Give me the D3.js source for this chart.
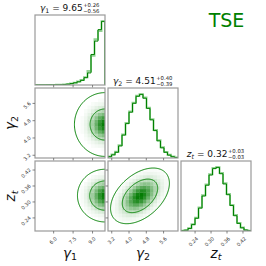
<!DOCTYPE html>
<html><head><meta charset="utf-8">
<script src="https://cdn.jsdelivr.net/npm/d3@7"></script>
<style>body{margin:0;background:#fff}svg{display:block}text{font-family:"DejaVu Sans",sans-serif}</style>
</head><body>
<svg id="c" width="266" height="266"></svg>
<script>
// ---------- data ----------
const paramNames = ["γ", "γ", "z"];
const paramSubs = ["1", "2", "t"];
const domains = [[4.6, 10.0], [3.05, 6.29], [0.189, 0.452]];
const tickValues = [[6.0, 7.5, 9.0], [3.2, 4.0, 4.8, 5.6], [0.24, 0.30, 0.36, 0.42]];
const tickLabels = [["6.0", "7.5", "9.0"], ["3.2", "4.0", "4.8", "5.6"], ["0.24", "0.30", "0.36", "0.42"]];
const titleMedian = ["9.65", "4.51", "0.32"];
const titlePlus = ["+0.26", "+0.40", "+0.03"];
const titleMinus = ["−0.56", "−0.39", "−0.03"];
// 1D histograms (20 bins each, relative heights)
const gamma1Hist = [0, 0, 0, 0.0005, 0.001, 0.001, 0.002, 0.004, 0.007, 0.013, 0.022, 0.035, 0.05, 0.073, 0.115, 0.19, 0.48, 0.69, 0.87, 1.0];
const gamma1HistAlt = [0, 0, 0, 0.0005, 0.001, 0.001, 0.002, 0.004, 0.008, 0.014, 0.024, 0.037, 0.055, 0.08, 0.12, 0.22, 0.46, 0.72, 0.85, 1.0];
const gamma2Hist = [0.02, 0.05, 0.09, 0.19, 0.36, 0.54, 0.72, 0.86, 0.97, 1.0, 0.94, 0.78, 0.6, 0.43, 0.27, 0.16, 0.09, 0.045, 0.02, 0.008];
const gamma2HistAlt = [0.025, 0.055, 0.1, 0.2, 0.37, 0.55, 0.73, 0.87, 0.98, 1.0, 0.95, 0.79, 0.61, 0.44, 0.28, 0.17, 0.095, 0.05, 0.022, 0.009];
const ztHist = [0.004, 0.012, 0.04, 0.1, 0.2, 0.36, 0.55, 0.72, 0.88, 0.98, 1.0, 0.9, 0.74, 0.57, 0.4, 0.24, 0.12, 0.05, 0.015, 0.004];
const ztHistAlt = [0.005, 0.014, 0.043, 0.105, 0.21, 0.37, 0.56, 0.73, 0.89, 0.99, 1.0, 0.91, 0.75, 0.58, 0.41, 0.25, 0.125, 0.055, 0.017, 0.005];
// 2D panels: column param, row param, centre, widths, correlation, contour levels
const pairX = [0, 0, 1];
const pairY = [1, 2, 2];
const pairCenter = [[10.0, 4.6], [10.0, 0.322], [4.53, 0.321]];
const pairSigma = [[1.15, 0.72], [1.18, 0.055], [0.82, 0.063]];
const pairRho = [0, 0, 0.45];
const pairLevels = [[1, 2.05], [1, 1.8], [1, 1.66]];
const label = "TSE";

// ---------- layout ----------
const panelLeft = 35, panelTop = 15, panelSize = 70, panelGap = 3, nBins = 20;
const green = "#008000", lightGreen = "#93d293";
const svg = d3.select("#c");
const x0 = k => panelLeft + k * (panelSize + panelGap);
const y0 = k => panelTop + k * (panelSize + panelGap);
const sx = domains.map((d, k) => d3.scaleLinear().domain(d).range([x0(k), x0(k) + panelSize]));
const sy = domains.map((d, k) => d3.scaleLinear().domain(d).range([y0(k) + panelSize, y0(k)]));
const edges = domains.map(d => d3.range(nBins + 1).map(i => d[0] + i * (d[1] - d[0]) / nBins));
const hists = [gamma1Hist, gamma2Hist, ztHist];
const histsAlt = [gamma1HistAlt, gamma2HistAlt, ztHistAlt];

const defs = svg.append("defs");
function clipFor(c, r) {
  const id = `clip${c}${r}`;
  defs.append("clipPath").attr("id", id).append("rect")
    .attr("x", x0(c)).attr("y", y0(r)).attr("width", panelSize).attr("height", panelSize);
  return `url(#${id})`;
}

// 1D histograms
hists.forEach((h, k) => {
  const hy = d3.scaleLinear().domain([0, 1.1 * d3.max(h)]).range([y0(k) + panelSize, y0(k)]);
  const g = svg.append("g").attr("clip-path", clipFor(k, k));
  const stepPts = arr => {
    const pts = [[edges[k][0], 0]];
    arr.forEach((v, i) => { pts.push([edges[k][i], v]); pts.push([edges[k][i + 1], v]); });
    pts.push([edges[k][nBins], 0]);
    return pts;
  };
  const line = d3.line().x(p => sx[k](p[0])).y(p => hy(p[1]));
  g.append("path").attr("d", line(stepPts(histsAlt[k]))).attr("fill", "none")
    .attr("stroke", lightGreen).attr("stroke-width", 2);
  g.append("path").attr("d", line(stepPts(h))).attr("fill", "none")
    .attr("stroke", green).attr("stroke-width", 1);
});

// 2D panels
const shade = d3.interpolateRgb("#ffffff", "#007a00");
pairX.forEach((c, p) => {
  const r = pairY[p];
  const [mx, my] = pairCenter[p];
  const [wx, wy] = pairSigma[p];
  const rho = pairRho[p];
  const g = svg.append("g").attr("clip-path", clipFor(c, r));
  const maha = (x, y) => {
    const u = (x - mx) / wx, v = (y - my) / wy;
    return Math.sqrt((u * u - 2 * rho * u * v + v * v) / (1 - rho * rho));
  };
  const cells = [];
  for (let i = 0; i < nBins; i++) for (let j = 0; j < nBins; j++) {
    const xc = (edges[c][i] + edges[c][i + 1]) / 2, yc = (edges[r][j] + edges[r][j + 1]) / 2;
    const m = maha(xc, yc) / 0.58;
    const val = Math.exp(-0.5 * m * m);
    if (val > 0.02) cells.push({i, j, val});
  }
  g.selectAll("rect.cell").data(cells).enter().append("rect")
    .attr("x", d => sx[c](edges[c][d.i]))
    .attr("y", d => sy[r](edges[r][d.j + 1]))
    .attr("width", d => sx[c](edges[c][d.i + 1]) - sx[c](edges[c][d.i]) + 0.3)
    .attr("height", d => sy[r](edges[r][d.j]) - sy[r](edges[r][d.j + 1]) + 0.3)
    .attr("fill", d => shade(d.val));
  pairLevels[p].forEach(lv => {
    const pts = d3.range(0, 241).map(t => {
      const a = t / 240 * 2 * Math.PI;
      return [mx + lv * wx * Math.cos(a), my + lv * wy * (rho * Math.cos(a) + Math.sqrt(1 - rho * rho) * Math.sin(a))];
    });
    g.append("path").attr("d", d3.line().x(q => sx[c](q[0])).y(q => sy[r](q[1]))(pts))
      .attr("fill", "none").attr("stroke", green).attr("stroke-width", 1);
  });
});

// frames and ticks
for (let r = 0; r < 3; r++) for (let c = 0; c <= r; c++) {
  svg.append("rect").attr("x", x0(c)).attr("y", y0(r)).attr("width", panelSize).attr("height", panelSize)
    .attr("fill", "none").attr("stroke", "#9a9a9a").attr("stroke-width", 1.2);
  const gb = svg.append("g").attr("transform", `translate(0,${y0(r) + panelSize})`)
    .call(d3.axisBottom(sx[c]).tickValues(tickValues[c]).tickSize(2.5).tickFormat(""));
  gb.select(".domain").remove();
  gb.selectAll("line").attr("stroke", "#666").attr("stroke-width", 0.8);
  if (r === 2) {
    tickValues[c].forEach((v, i) => {
      svg.append("text").attr("transform", `translate(${sx[c](v) + 2.8},${237.7}) rotate(-45)`)
        .attr("text-anchor", "end").attr("dy", "0.35em").attr("font-size", 5).attr("fill", "#333")
        .text(tickLabels[c][i]);
    });
  }
  if (r > c) {
    const gl = svg.append("g").attr("transform", `translate(${x0(c)},0)`)
      .call(d3.axisLeft(sy[r]).tickValues(tickValues[r]).tickSize(2.5).tickFormat(""));
    gl.select(".domain").remove();
    gl.selectAll("line").attr("stroke", "#666").attr("stroke-width", 0.8);
    if (c === 0) {
      tickValues[r].forEach((v, i) => {
        svg.append("text").attr("transform", `translate(${30},${sy[r](v) - 0.5}) rotate(-45)`)
          .attr("text-anchor", "end").attr("dy", "0.35em").attr("font-size", 5).attr("fill", "#333")
          .text(tickLabels[r][i]);
      });
    }
  }
}

// titles
paramNames.forEach((nm, k) => {
  const g = svg.append("g");
  const t = g.append("text").attr("x", 0).attr("y", 0).attr("font-size", 9).attr("fill", "#111");
  t.append("tspan").attr("font-style", "italic").text(nm);
  t.append("tspan").attr("font-size", 6.3).attr("dy", 1.8).attr("font-style", k === 2 ? "italic" : "normal").text(paramSubs[k]);
  t.append("tspan").attr("dy", -1.8).text(" = " + titleMedian[k]);
  const w = t.node().getComputedTextLength();
  g.append("text").attr("x", w + 0.5).attr("y", -4.6).attr("font-size", 5.3).attr("fill", "#111").text(titlePlus[k]);
  g.append("text").attr("x", w + 0.5).attr("y", 2.0).attr("font-size", 5.3).attr("fill", "#111").text(titleMinus[k]);
  const bb = g.node().getBBox();
  g.attr("transform", `translate(${x0(k) + panelSize / 2 - bb.width / 2},${y0(k) - 3.8})`);
});

// axis labels
paramNames.forEach((nm, k) => {
  const t = svg.append("text").attr("x", x0(k) + panelSize / 2).attr("y", 257.5)
    .attr("text-anchor", "middle").attr("font-size", 13.5).attr("fill", "#111");
  t.append("tspan").attr("font-style", "italic").text(nm);
  t.append("tspan").attr("font-size", 9.5).attr("dy", 2.5).attr("font-style", k === 2 ? "italic" : "normal").text(paramSubs[k]);
  if (k > 0) {
    const ty = svg.append("text").attr("transform", `translate(${15},${y0(k) + panelSize / 2}) rotate(-90)`)
      .attr("text-anchor", "middle").attr("font-size", 13.5).attr("fill", "#111");
    ty.append("tspan").attr("font-style", "italic").text(nm);
    ty.append("tspan").attr("font-size", 9.5).attr("dy", 2.5).attr("font-style", k === 2 ? "italic" : "normal").text(paramSubs[k]);
  }
});

svg.append("text").attr("x", 226.5).attr("y", 26.5).attr("text-anchor", "middle")
  .attr("font-size", 19).attr("fill", green).text(label);
</script>
</body></html>
